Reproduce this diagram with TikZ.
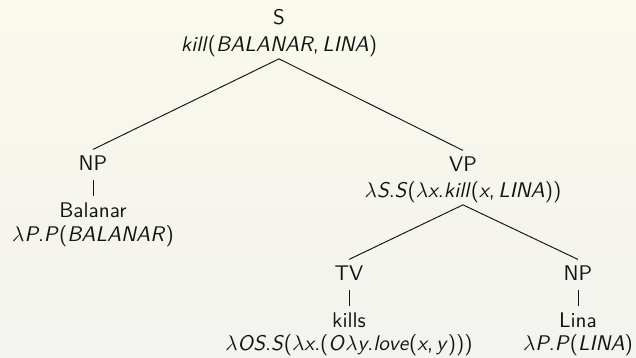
\documentclass[tikz,border=0pt]{standalone}
\usepackage{fontspec}
\definecolor{bgtop}{RGB}{249,249,236}
\definecolor{bgbot}{RGB}{243,243,239}
\definecolor{ink}{RGB}{20,20,20}
\newcommand{\tit}[1]{\textit{#1}}
\begin{document}
\begin{tikzpicture}[x=0.4717pt,y=-0.4717pt,
  lab/.style={font=\sffamily, inner xsep=0pt, inner ysep=1pt, text height=8.5pt, text depth=2.5pt, anchor=base, text=ink},
  edge/.style={draw=ink, line width=0.45pt},
  stem/.style={edge, shorten <=1.2pt}]
\shade[top color=bgtop, bottom color=bgbot] (0,0) rectangle (636,357);
\useasboundingbox (0,0) rectangle (636,357);
% S
\node[lab] (S) at (279,24) {S};
\node[lab] (Ssem) at (279,51) {\tit{kill}(\tit{BALANAR},\,\tit{LINA})};
% NP left
\node[lab] (NPa) at (93,170) {NP};
\node[lab] (Bal) at (93,217) {Balanar};
\node[lab] (NPasem) at (93,241) {$\lambda$\tit{P}.\tit{P}(\tit{BALANAR})};
% VP
\node[lab] (VP) at (463,171) {VP};
\node[lab] (VPsem) at (463,197) {$\lambda$\tit{S}.\tit{S}($\lambda$\tit{x}.\tit{kill}(\tit{x},\,\tit{LINA}))};
% TV
\node[lab] (TV) at (349,280) {TV};
\node[lab] (kills) at (349,327) {kills};
\node[lab] (TVsem) at (349,350) {$\lambda$\tit{OS}.\tit{S}($\lambda$\tit{x}.(\tit{O}$\lambda$\tit{y}.\tit{love}(\tit{x},\,\tit{y})))};
% NP right
\node[lab] (NPb) at (578,280) {NP};
\node[lab] (Lina) at (578,327) {Lina};
\node[lab] (NPbsem) at (578,350) {$\lambda$\tit{P}.\tit{P}(\tit{LINA})};
% edges
\draw[edge] (Ssem.south) -- (NPa.north);
\draw[edge] (Ssem.south) -- (VP.north);
\draw[edge] (VPsem.south) -- (TV.north);
\draw[edge] (VPsem.south) -- (NPb.north);
\draw[stem] (NPa.south) -- (Bal.north);
\draw[stem] (TV.south) -- (kills.north);
\draw[stem] (NPb.south) -- (Lina.north);
\end{tikzpicture}
\end{document}
